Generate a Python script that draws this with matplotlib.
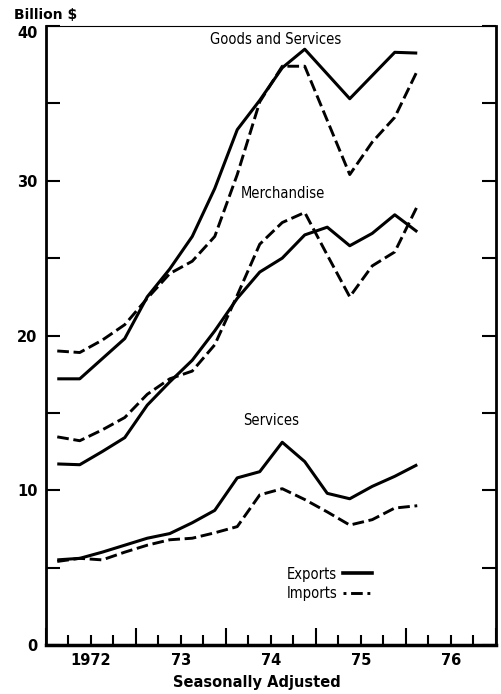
"""U.S. exports and imports of goods and services, quarterly 1972-76."""

import matplotlib.pyplot as plt
import matplotlib.transforms as mtransforms
import pandas as pd

quarters = [
    "1972Q1", "1972Q2", "1972Q3", "1972Q4",
    "1973Q1", "1973Q2", "1973Q3", "1973Q4",
    "1974Q1", "1974Q2", "1974Q3", "1974Q4",
    "1975Q1", "1975Q2", "1975Q3", "1975Q4",
    "1976Q1",
]

gs_exports = [17.2, 17.2, 18.5, 19.8, 22.5, 24.3, 26.4, 29.5, 33.3,
              35.2, 37.3, 38.5, 36.9, 35.3, 36.8, 38.3, 38.25]
gs_imports = [19.0, 18.9, 19.7, 20.7, 22.4, 24.0, 24.8, 26.4, 30.4,
              35.1, 37.4, 37.4, 33.9, 30.4, 32.5, 34.1, 37.1]
merch_exports = [11.7, 11.65, 12.5, 13.4, 15.5, 17.0, 18.4, 20.3, 22.4,
                 24.1, 25.0, 26.5, 27.0, 25.8, 26.6, 27.8, 26.7]
merch_imports = [13.45, 13.2, 13.9, 14.7, 16.2, 17.2, 17.7, 19.4, 22.6,
                 25.9, 27.3, 27.95, 25.2, 22.5, 24.5, 25.4, 28.35]
serv_exports = [5.5, 5.6, 6.0, 6.45, 6.9, 7.2, 7.9, 8.7, 10.8,
                11.2, 13.1, 11.85, 9.8, 9.45, 10.25, 10.9, 11.65]
serv_imports = [5.4, 5.6, 5.5, 6.0, 6.45, 6.8, 6.9, 7.25, 7.65,
                9.7, 10.1, 9.4, 8.6, 7.75, 8.1, 8.85, 9.0]

year_labels = ["1972", "73", "74", "75", "76"]

# mid-quarter positions in fractional years
per = pd.PeriodIndex(quarters, freq="Q")
x = per.year + (per.quarter - 0.5) / 4

BOLD = ["DejaVu Sans"]
narrow = dict(family="DejaVu Sans", fontstretch="condensed", fontsize=10.5)
DASH = (0, (4, 1.6))

fig = plt.figure(figsize=(5.01, 6.94), dpi=100)
ax = fig.add_axes([46 / 501, 49 / 694, 450 / 501, 619 / 694])

for exp, imp in [(gs_exports, gs_imports), (merch_exports, merch_imports),
                 (serv_exports, serv_imports)]:
    ax.plot(x, exp, color="black", lw=2.2, solid_capstyle="butt")
    ax.plot(x, imp, color="black", lw=2.1, linestyle=DASH)

ax.set_xlim(1972, 1977)
ax.set_ylim(0, 40)

# y axis: ticks every 5, labels every 10, both sides, inward
ax.set_yticks([0, 10, 20, 30, 40], labels=["0", "10", "20", "30", "40"])
ax.set_yticks([5, 15, 25, 35], minor=True)
ax.tick_params(axis="y", which="both", direction="in", length=10, width=1.5,
               right=True, labelsize=10.5, pad=6)

# x axis: year boundaries long, quarters short, labels mid-year
years = [1972, 1973, 1974, 1975, 1976, 1977]
qpos = [y + q / 4 for y in years[:-1] for q in (1, 2, 3)]
qlabels = []
for p in qpos:
    qlabels.append(year_labels[int(p) - 1972] if p % 1 == 0.5 else "")
ax.set_xticks(years, labels=[""] * len(years))
ax.set_xticks(qpos, labels=qlabels, minor=True)
ax.tick_params(axis="x", which="major", direction="in", length=12, width=1.5)
ax.tick_params(axis="x", which="minor", direction="in", length=7, width=1.5,
               labelsize=10.5, pad=6)
for lbl in ax.get_xticklabels(minor=True) + ax.get_yticklabels():
    lbl.set_fontweight("bold")
    lbl.set_family(BOLD)

# the top label sits a little below its tick, as in the original
top = ax.get_yticklabels()[-1]
top.set_transform(top.get_transform() + mtransforms.ScaledTranslation(
    0, -6 / 100, fig.dpi_scale_trans))

for side, w in [("left", 2.0), ("bottom", 2.5), ("right", 2.0), ("top", 0.8)]:
    ax.spines[side].set_linewidth(w)

ax.set_xlabel("Seasonally Adjusted", fontsize=10.5, fontweight="bold",
              family=BOLD)
ax.xaxis.set_label_coords(0.469, -0.049)
fig.text(14 / 501, 1 - 15 / 694, "Billion $", fontsize=10, fontweight="bold",
         family=BOLD, va="center")

ax.text(1974.55, 39.1, "Goods and Services", ha="center", va="center",
        **narrow)
ax.text(1974.63, 29.2, "Merchandise", ha="center", va="center", **narrow)
ax.text(1974.5, 14.5, "Services", ha="center", va="center", **narrow)

handles = [
    plt.Line2D([], [], color="black", lw=2.6),
    plt.Line2D([], [], color="black", lw=2.1, linestyle=(0, (1, 1.6, 4, 1.6))),
]
ax.legend(handles, ["Exports", "Imports"], loc="lower left",
          bbox_to_anchor=(0.505, 0.05), frameon=False, markerfirst=False,
          handlelength=2.0, handletextpad=0.4, labelspacing=0.3,
          prop={"family": "DejaVu Sans", "stretch": "condensed", "size": 10.5})

plt.savefig("out.png")
print("out.png")
